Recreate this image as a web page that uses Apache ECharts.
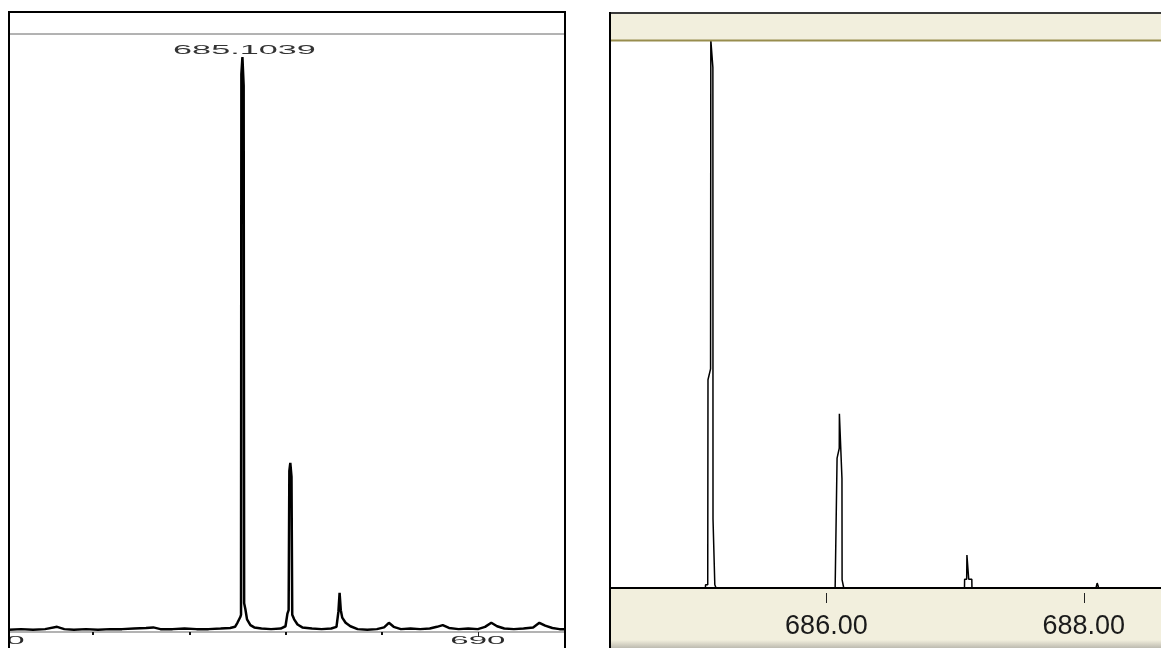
<!DOCTYPE html>
<html>
<head>
<meta charset="utf-8">
<script src="https://cdn.jsdelivr.net/npm/echarts@6/dist/echarts.min.js"></script>
<style>
  html, body { margin: 0; padding: 0; background: #ffffff; }
  #chart { width: 1161px; height: 648px; }
</style>
</head>
<body>
<div id="chart"></div>
<script>
// Survey spectrum (left panel): m/z and relative intensity (%)
const surveyMz = [
  680.25, 680.50, 680.75, 681.00, 681.25, 681.40, 681.60, 681.85, 682.10, 682.35,
  682.60, 682.85, 683.10, 683.25, 683.40, 683.65, 683.90, 684.15, 684.40, 684.65,
  684.85, 684.95, 685.00, 685.06, 685.075, 685.082, 685.1039, 685.13, 685.14, 685.165,
  685.20, 685.27, 685.35, 685.50, 685.70, 685.90, 686.00, 686.04, 686.065, 686.08,
  686.1, 686.125, 686.14, 686.18, 686.25, 686.35, 686.55, 686.75, 686.95, 687.06,
  687.10, 687.125, 687.15, 687.18, 687.25, 687.35, 687.50, 687.70, 687.90, 688.05,
  688.15, 688.25, 688.40, 688.60, 688.80, 689.00, 689.15, 689.27, 689.40, 689.60,
  689.80, 690.00, 690.15, 690.28, 690.40, 690.55, 690.75, 690.95, 691.15, 691.28,
  691.40, 691.55, 691.70, 691.80
];
const surveyIntensity = [
  0.4, 0.5, 0.4, 0.5, 0.9, 0.5, 0.4, 0.5, 0.4, 0.5,
  0.5, 0.6, 0.7, 0.8, 0.5, 0.5, 0.6, 0.5, 0.5, 0.6,
  0.7, 0.9, 1.6, 2.6, 3.0, 97, 100, 95, 5.0, 4.0,
  2.2, 1.2, 0.8, 0.6, 0.5, 0.6, 1.0, 3.2, 3.8, 28,
  29.4, 27, 3.0, 2.2, 1.3, 0.8, 0.6, 0.5, 0.6, 0.9,
  3.5, 6.8, 3.8, 2.5, 1.6, 1.0, 0.5, 0.4, 0.5, 0.8,
  1.6, 0.9, 0.5, 0.6, 0.5, 0.6, 0.9, 1.2, 0.7, 0.5,
  0.6, 0.5, 0.9, 1.6, 1.0, 0.6, 0.5, 0.6, 0.8, 1.6,
  1.1, 0.7, 0.5, 0.5
];
const baseMz = 685.1039;
const baseIntensity = 100;

// Zoomed profile (right panel): m/z and relative intensity (%)
const zoomMz = [
  684.30,
  685.060, 685.061, 685.078, 685.080, 685.100, 685.102, 685.118, 685.119, 685.132, 685.133, 685.142, 685.143,
  686.068, 686.069, 686.082, 686.083, 686.100, 686.101, 686.104, 686.121, 686.122, 686.134, 686.135,
  687.073, 687.074, 687.090, 687.092, 687.104, 687.106, 687.130, 687.131,
  688.095, 688.100, 688.104, 688.110, 688.115,
  688.60
];
const zoomIntensity = [
  0,
  0, 0.6, 0.6, 38, 40, 100, 95, 12.6, 12.6, 0.6, 0.6, 0,
  0, 1.5, 1.5, 23.7, 25.5, 31.8, 31.8, 20, 1.5, 1.5, 0,
  0, 1.6, 1.6, 6.0, 6.0, 1.6, 1.6, 0,
  0, 0.5, 0.9, 0.5, 0,
  0
];

// Axis ticks
const surveyLabelTicks = [680, 690];
const surveyMinorTicks = [682, 684, 686, 688];
const zoomTicks = [684, 686, 688];
const zoomLabelTicks = [686, 688];

const BEIGE = '#f2efdd';
const FONT = '"Liberation Sans", Arial, sans-serif';

const chart = echarts.init(document.getElementById('chart'), null, { renderer: 'canvas' });

const surveyData = surveyMz.map((m, i) => [m, surveyIntensity[i]]);
const zoomData = zoomMz.map((m, i) => [m, zoomIntensity[i]]);

chart.setOption({
  animation: false,
  backgroundColor: '#ffffff',
  grid: [
    { left: -3, width: 577, top: 34, bottom: 16, outerBoundsMode: 'none' },
    { left: 569, right: 0, top: 40, bottom: 60, outerBoundsMode: 'none' }
  ],
  xAxis: [
    { // survey axis: line and minor tick dots
      type: 'value', gridIndex: 0, position: 'bottom', min: 680, max: 692, z: 5,
      axisLine: { show: true, lineStyle: { color: '#9a9a9a', width: 1.5 } },
      axisTick: { show: true, customValues: surveyMinorTicks, length: 3, lineStyle: { color: '#111', width: 2 } },
      axisLabel: { show: false },
      splitLine: { show: false }
    },
    { // survey axis: labelled ticks
      type: 'value', gridIndex: 0, position: 'bottom', min: 680, max: 692, z: 5,
      axisLine: { show: false },
      axisTick: { show: true, customValues: surveyLabelTicks, length: 5, lineStyle: { color: '#222', width: 1 } },
      axisLabel: { show: false },
      splitLine: { show: false }
    },
    { // zoom axis: baseline
      type: 'value', gridIndex: 1, position: 'bottom', min: 684, max: 688.6, z: 5,
      axisLine: { show: true, lineStyle: { color: '#000', width: 2 } },
      axisTick: { show: false },
      axisLabel: { show: false },
      splitLine: { show: false }
    },
    { // zoom axis: ticks and labels
      type: 'value', gridIndex: 1, position: 'bottom', offset: 5, min: 684, max: 688.6, z: 5,
      axisLine: { show: false },
      axisTick: { show: true, customValues: zoomTicks, length: 10, lineStyle: { color: '#222', width: 1 } },
      axisLabel: {
        show: true, customValues: zoomLabelTicks, margin: 20,
        fontSize: 27, fontFamily: FONT, color: '#1a1a1a',
        formatter: v => v.toFixed(2)
      },
      splitLine: { show: false }
    }
  ],
  yAxis: [
    { type: 'value', gridIndex: 0, min: 0, max: 104, show: false, splitLine: { show: false } },
    { type: 'value', gridIndex: 1, min: 0, max: 100, show: false, splitLine: { show: false } }
  ],
  series: [
    {
      type: 'line', xAxisIndex: 0, yAxisIndex: 0, data: surveyData,
      showSymbol: false, symbol: 'none', z: 3,
      lineStyle: { color: '#000', width: 2.5 }
    },
    {
      type: 'line', xAxisIndex: 2, yAxisIndex: 1, data: zoomData,
      showSymbol: false, symbol: 'none', z: 3,
      lineStyle: { color: '#000', width: 1.5 }
    }
  ]
});

// Text and frame decorations placed through the axes' own scales
const peakPx = chart.convertToPixel({ xAxisIndex: 0, yAxisIndex: 0 }, [baseMz, baseIntensity]);

const elements = [
  // right panel bands
  { type: 'rect', z: 1, silent: true, shape: { x: 611, y: 13, width: 560, height: 27 }, style: { fill: BEIGE } },
  { type: 'rect', z: 1, silent: true, shape: { x: 611, y: 589, width: 560, height: 60 }, style: { fill: BEIGE } },
  {
    type: 'rect', z: 1, silent: true, shape: { x: 611, y: 640, width: 560, height: 8 },
    style: { fill: new echarts.graphic.LinearGradient(0, 0, 0, 1, [
      { offset: 0, color: BEIGE }, { offset: 1, color: '#bdbbb0' }
    ]) }
  },
  // base peak annotation
  {
    type: 'text', z: 10, silent: true, x: peakPx[0] + 2, y: peakPx[1] - 6, scaleX: 2.85, scaleY: 1,
    style: {
      text: baseMz.toFixed(4), fontSize: 12, fontFamily: FONT, fill: '#333',
      align: 'center', verticalAlign: 'middle', textAlign: 'center', textVerticalAlign: 'middle'
    }
  }
];

// survey tick labels
surveyLabelTicks.forEach(v => {
  const px = chart.convertToPixel({ xAxisIndex: 0 }, v);
  elements.push({
    type: 'text', z: 10, silent: true, x: px, y: 641, scaleX: 3.3, scaleY: 1,
    style: {
      text: String(v), fontSize: 10, fontFamily: FONT, fill: '#2a2a2a',
      align: 'center', verticalAlign: 'middle', textAlign: 'center', textVerticalAlign: 'middle'
    }
  });
});

// white margins outside the panels
elements.push(
  { type: 'rect', z: 20, silent: true, shape: { x: 0, y: 0, width: 8, height: 648 }, style: { fill: '#fff' } },
  { type: 'rect', z: 20, silent: true, shape: { x: 566, y: 0, width: 43, height: 648 }, style: { fill: '#fff' } },
  { type: 'rect', z: 20, silent: true, shape: { x: 0, y: 0, width: 1161, height: 11 }, style: { fill: '#fff' } }
);

// panel frames
elements.push(
  { type: 'rect', z: 30, silent: true, shape: { x: 9, y: 12, width: 556, height: 650 }, style: { fill: null, stroke: '#000', lineWidth: 2 } },
  { type: 'line', z: 30, silent: true, shape: { x1: 10, y1: 34, x2: 564, y2: 34 }, style: { stroke: '#666', lineWidth: 1 } },
  { type: 'line', z: 30, silent: true, shape: { x1: 609, y1: 13, x2: 1161, y2: 13 }, style: { stroke: '#3a3a3a', lineWidth: 2 } },
  { type: 'line', z: 30, silent: true, shape: { x1: 611, y1: 40.5, x2: 1161, y2: 40.5 }, style: { stroke: '#988d4e', lineWidth: 2 } },
  { type: 'line', z: 30, silent: true, shape: { x1: 610, y1: 12, x2: 610, y2: 648 }, style: { stroke: '#000', lineWidth: 2 } }
);

chart.setOption({ graphic: { elements: elements } });
</script>
</body>
</html>
